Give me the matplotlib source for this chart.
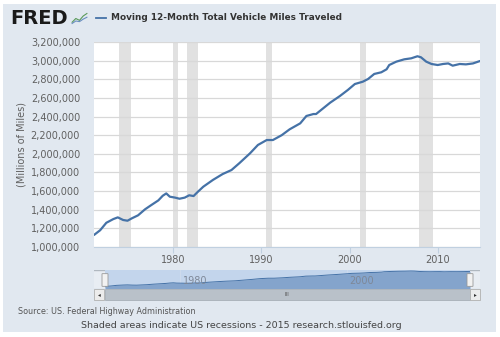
import matplotlib
matplotlib.use("Agg")
import matplotlib.pyplot as plt
from matplotlib.patches import Rectangle, FancyBboxPatch
from matplotlib.ticker import FuncFormatter

# moving 12-month total vehicle miles traveled (millions of miles)
years = [1971.0, 1971.7, 1972.4, 1973.2, 1973.7, 1974.3, 1974.8, 1975.3, 1976.0,
         1976.8, 1977.5, 1978.3, 1978.8, 1979.2, 1979.6, 1980.2, 1980.7, 1981.3,
         1981.8, 1982.3, 1982.8, 1983.4, 1984.5, 1985.6, 1986.6, 1987.5, 1988.7,
         1989.6, 1990.6, 1991.3, 1992.3, 1993.2, 1994.4, 1995.1, 1995.9, 1996.2,
         1997.0, 1997.8, 1998.9, 1999.8, 2000.6, 2001.5, 2002.1, 2002.8, 2003.6,
         2004.2, 2004.5, 2005.3, 2006.2, 2007.0, 2007.7, 2008.1, 2008.7, 2009.3,
         2010.0, 2010.6, 2011.2, 2011.7, 2012.5, 2013.2, 2014.0, 2014.8]
vmt = [1129000, 1180000, 1260000, 1300000, 1318000, 1290000, 1282000, 1308000, 1340000,
       1405000, 1450000, 1500000, 1550000, 1575000, 1540000, 1530000, 1518000, 1530000,
       1555000, 1547000, 1594000, 1647000, 1720000, 1783000, 1826000, 1900000, 2005000,
       2095000, 2148000, 2148000, 2200000, 2263000, 2327000, 2406000, 2427000, 2427000,
       2488000, 2549000, 2620000, 2685000, 2749000, 2774000, 2803000, 2857000, 2875000,
       2907000, 2953000, 2989000, 3014000, 3025000, 3047000, 3036000, 2989000, 2964000,
       2953000, 2964000, 2970000, 2946000, 2964000, 2960000, 2970000, 2996000]

# US recessions (start, end) as decimal years
recessions = [(1973.83, 1975.17), (1980.0, 1980.5), (1981.5, 1982.83),
              (1990.5, 1991.17), (2001.17, 2001.83), (2007.92, 2009.42)]

xticks = [1980, 1990, 2000, 2010]
nav_labels = [1980, 2000]

BG = "#e1e8f0"
LINE = "#4572a7"
GRID = "#d8d8d8"
SHADE = "#e1e1e1"
TXT = "#606060"

W, H = 500, 337
fig = plt.figure(figsize=(5, 3.37), dpi=100, facecolor="white")
fig.patches.append(Rectangle((3 / W, 1 - 332 / H), 493 / W, 328 / H,
                             transform=fig.transFigure, facecolor=BG, edgecolor="none", zorder=-10))


def box(x0, y0, x1, y1):
    return [x0 / W, 1 - y1 / H, (x1 - x0) / W, (y1 - y0) / H]


# main chart
ax = fig.add_axes(box(94, 42, 480, 247))
ax.set_facecolor("white")
for a, b in recessions:
    ax.axvspan(a, b, color=SHADE, lw=0, zorder=1)
ax.plot(years, vmt, color=LINE, lw=1.6, zorder=3, solid_capstyle="round")
ax.set_xlim(1971.0, 2014.8)
ax.set_ylim(1000000, 3200000)
ax.set_yticks(range(1000000, 3200001, 200000))
ax.yaxis.set_major_formatter(FuncFormatter(lambda v, p: f"{int(v):,}"))
ax.set_xticks(xticks)
ax.grid(axis="y", color=GRID, lw=0.9, zorder=2)
for s in ["top", "right", "left"]:
    ax.spines[s].set_visible(False)
ax.spines["bottom"].set_color("#c0d0e0")
ax.tick_params(axis="y", length=0, labelsize=7, labelcolor=TXT, pad=10)
ax.tick_params(axis="x", length=4, color="#c0d0e0", labelsize=7, labelcolor=TXT, pad=2)
ax.set_ylabel("(Millions of Miles)", fontsize=7, color=TXT)
ax.yaxis.set_label_coords(-0.175, 0.5)

# header
fig.text(10 / W, 1 - 19 / H, "FRED", fontsize=14, fontweight="bold", color="#1a1a1a",
         va="center", ha="left", family="DejaVu Sans")
icon = fig.add_axes(box(71, 11, 88, 26))
icon.set_facecolor("#eef2f6")
icon.plot([0, 1, 2, 3, 4], [0.2, 0.5, 0.35, 0.7, 0.9], color="#5a9a5a", lw=0.8)
icon.plot([0, 1, 2, 3, 4], [0.1, 0.3, 0.25, 0.45, 0.6], color="#6a8fc0", lw=0.8)
icon.set_xlim(-0.3, 4.3)
icon.set_ylim(-0.1, 1.1)
icon.axis("off")
fig.add_artist(plt.Line2D([96 / W, 106 / W], [1 - 18 / H, 1 - 18 / H], color=LINE, lw=1.3))
fig.text(111 / W, 1 - 18 / H, "Moving 12-Month Total Vehicle Miles Traveled", fontsize=6.4,
         fontweight="bold", color="#333333", va="center", ha="left")

# navigator
nav_bg = fig.add_axes(box(94, 270, 480, 288))
nav_bg.set_facecolor("#e8edf3")
nav_bg.set_xticks([])
nav_bg.set_yticks([])
for s in nav_bg.spines.values():
    s.set_visible(False)
nav_bg.axhline(1, color="#b0b8c0", lw=1)

nav = fig.add_axes(box(105, 270, 470, 288))
nav.set_facecolor("#c3d5ec")
nav.fill_between(years, vmt, 0, color="#84a4cc", lw=0, zorder=1)
nav.plot(years, vmt, color=LINE, lw=0.7, zorder=2)
nav.set_xlim(1971.0, 2014.8)
nav.set_ylim(930000, 3170000)
for yr in nav_labels:
    nav.axvline(yr, color="#d0dcec", lw=0.6, zorder=0.5)
    nav.text(yr + 0.3, 0.4, str(yr), transform=nav.get_xaxis_transform(), fontsize=7,
             color="#7e8898", va="center", ha="left", zorder=3)
nav.set_xticks([])
nav.set_yticks([])
for s in nav.spines.values():
    s.set_visible(False)

# handles
for hx in (105, 470):
    fig.patches.append(FancyBboxPatch(((hx - 2.5) / W, 1 - 286 / H), 5 / W, 12 / H,
                                      boxstyle="round,pad=0.001", transform=fig.transFigure,
                                      facecolor="#f2f2f2", edgecolor="#999999", lw=0.6))

# scrollbar
fig.patches.append(Rectangle((105 / W, 1 - 300 / H), 365 / W, 11 / H, transform=fig.transFigure,
                             facecolor="#b9c1c9", edgecolor="#a8b0b8", lw=0.6))
for bx in (94, 470):
    fig.patches.append(Rectangle((bx / W, 1 - 300 / H), 10 / W, 11 / H, transform=fig.transFigure,
                                 facecolor="#ececec", edgecolor="#b0b0b0", lw=0.6))
fig.text(99 / W, 1 - 294.5 / H, "◂", fontsize=4, color="#333333", ha="center", va="center")
fig.text(475 / W, 1 - 294.5 / H, "▸", fontsize=4, color="#333333", ha="center", va="center")
fig.text(287 / W, 1 - 294.5 / H, "III", fontsize=4, color="#555555", ha="center", va="center")

# footer
fig.text(18 / W, 1 - 312 / H, "Source: US. Federal Highway Administration", fontsize=5.8,
         color="#555555", ha="left", va="center")
fig.text(241 / W, 1 - 326 / H, "Shaded areas indicate US recessions - 2015 research.stlouisfed.org",
         fontsize=6.8, color="#444444", ha="center", va="center")

fig.savefig("out.png", dpi=100, facecolor="white")
